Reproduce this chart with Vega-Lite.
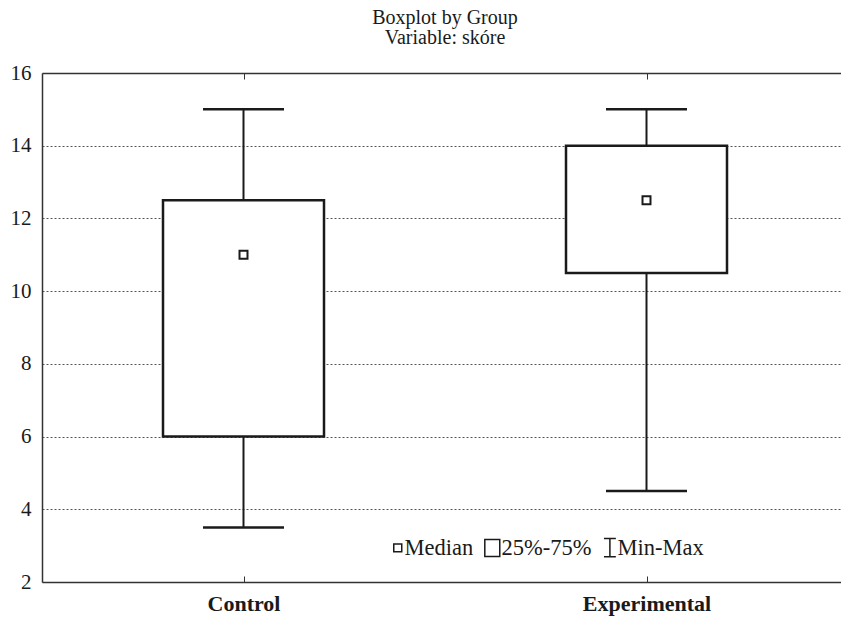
{
  "$schema": "https://vega.github.io/schema/vega-lite/v6.json",
  "width": 806,
  "height": 509,
  "autosize": {"type": "none"},
  "padding": {"left": 42, "top": 73, "right": -7, "bottom": 36},
  "config": {
    "font": "Liberation Serif",
    "view": {"stroke": null},
    "axis": {"labelFont": "Liberation Serif", "labelColor": "#1a1a1a"}
  },
  "title": {
    "text": ["Boxplot by Group", "Variable: skóre"],
    "font": "Liberation Serif",
    "fontSize": 20,
    "fontWeight": "normal",
    "color": "#1a1a1a",
    "anchor": "middle",
    "frame": "group",
    "lineHeight": 20,
    "offset": 14
  },
  "data": {
    "values": [
      {"group": "Control", "min": 3.5, "q1": 6, "median": 11, "q3": 12.5, "max": 15},
      {"group": "Experimental", "min": 4.5, "q1": 10.5, "median": 12.5, "q3": 14, "max": 15}
    ]
  },
  "resolve": {"axis": {"x": "independent"}},
  "layer": [
    {
      "mark": {"type": "rule", "color": "#1a1a1a", "strokeWidth": 2},
      "encoding": {
        "x": {
          "field": "group", "type": "nominal", "sort": null,
          "scale": {"type": "point", "padding": 0.5},
          "axis": {
            "orient": "bottom", "title": null,
            "domain": true, "domainColor": "#333", "domainWidth": 1.5,
            "labelAngle": 0, "labelFontSize": 22, "labelFontWeight": "bold",
            "tickSize": -6, "tickColor": "#333", "tickWidth": 1, "labelPadding": 17
          }
        },
        "y": {
          "field": "min", "type": "quantitative",
          "scale": {"domain": [2, 16], "nice": false, "zero": false},
          "axis": {
            "title": null, "values": [2, 4, 6, 8, 10, 12, 14, 16],
            "ticks": false, "labelFontSize": 21, "labelPadding": 11,
            "domainColor": "#333", "domainWidth": 1.5,
            "grid": true, "gridDash": [2, 2], "gridColor": "#555", "gridWidth": 1
          }
        },
        "y2": {"field": "q1"}
      }
    },
    {
      "mark": {"type": "rule", "color": "#1a1a1a", "strokeWidth": 2},
      "encoding": {
        "x": {"field": "group", "type": "nominal", "sort": null, "scale": {"type": "point", "padding": 0.5}, "axis": null},
        "y": {"field": "q3", "type": "quantitative"},
        "y2": {"field": "max"}
      }
    },
    {
      "mark": {"type": "bar", "width": 161, "fill": "white", "stroke": "#1a1a1a", "strokeWidth": 2.5},
      "encoding": {
        "x": {"field": "group", "type": "nominal", "sort": null, "scale": {"type": "point", "padding": 0.5}, "axis": null},
        "y": {"field": "q1", "type": "quantitative"},
        "y2": {"field": "q3"}
      }
    },
    {
      "mark": {"type": "tick", "size": 81, "thickness": 2.5, "color": "#1a1a1a", "opacity": 1},
      "encoding": {
        "x": {"field": "group", "type": "nominal", "sort": null, "scale": {"type": "point", "padding": 0.5}, "axis": null},
        "y": {"field": "min", "type": "quantitative"}
      }
    },
    {
      "mark": {"type": "tick", "size": 81, "thickness": 2.5, "color": "#1a1a1a", "opacity": 1},
      "encoding": {
        "x": {
          "field": "group", "type": "nominal", "sort": null,
          "scale": {"type": "point", "padding": 0.5},
          "axis": {
            "orient": "top", "title": null, "labels": false,
            "domain": true, "domainColor": "#333", "domainWidth": 1.5,
            "tickSize": -6, "tickColor": "#333", "tickWidth": 1
          }
        },
        "y": {"field": "max", "type": "quantitative"}
      }
    },
    {
      "mark": {"type": "point", "filled": false, "size": 289, "stroke": "#1a1a1a", "strokeWidth": 2, "opacity": 1},
      "encoding": {
        "x": {"field": "group", "type": "nominal", "sort": null, "scale": {"type": "point", "padding": 0.5}, "axis": null},
        "y": {"field": "median", "type": "quantitative"},
        "shape": {
          "datum": "Median", "type": "nominal",
          "scale": {
            "domain": ["Median", "25%-75%", "Min-Max"],
            "range": [
              "M-0.47,-0.47L0.47,-0.47L0.47,0.47L-0.47,0.47Z",
              "M-1.17,-1L0.59,-1L0.59,1L-1.17,1Z",
              "M-0.8,-1.06L0.6,-1.06M-0.1,-1.06L-0.1,1.06M-0.8,1.06L0.6,1.06"
            ]
          },
          "legend": {
            "title": null, "orient": "none", "direction": "horizontal",
            "legendX": 344.5, "legendY": 463, "padding": 0,
            "symbolSize": 289, "symbolStrokeColor": "#1a1a1a", "symbolStrokeWidth": 1.5,
            "symbolFillColor": "white", "symbolOpacity": 1,
            "labelFont": "Liberation Serif", "labelFontSize": 22.5, "labelColor": "#1a1a1a",
            "labelOffset": -4.5, "columnPadding": 8
          }
        }
      }
    }
  ]
}
